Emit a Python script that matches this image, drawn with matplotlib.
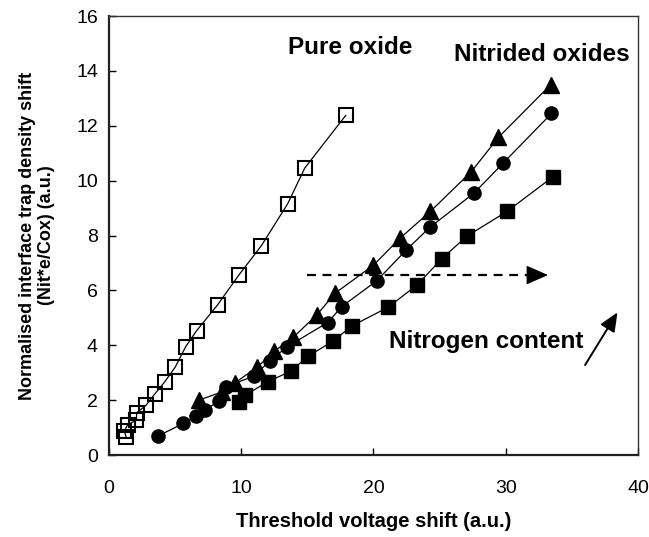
import matplotlib
matplotlib.use("Agg")
import matplotlib.pyplot as plt

plt.rcParams['font.family'] = ['Liberation Sans', 'DejaVu Sans']

# Pure oxide (open squares)
pure_x = [1.30, 1.15, 1.41, 2.07, 2.09, 2.79, 3.45, 4.20, 5.00, 5.80, 6.62, 8.22, 9.80, 11.52, 13.50, 14.80, 17.90]
pure_y = [0.65, 0.87, 1.10, 1.28, 1.54, 1.81, 2.22, 2.66, 3.20, 3.95, 4.53, 5.48, 6.55, 7.63, 9.15, 10.46, 12.38]

# Nitrided oxides, lowest nitrogen content (filled triangles)
tri_x = [6.80, 8.55, 9.55, 11.20, 12.50, 13.95, 15.70, 17.10, 20.00, 22.00, 24.30, 27.40, 29.45, 33.40]
tri_y = [2.00, 2.30, 2.64, 3.20, 3.78, 4.30, 5.10, 5.90, 6.92, 7.90, 8.88, 10.33, 11.58, 13.50]

# Nitrided oxides, intermediate nitrogen content (filled circles)
cir_x = [3.73, 5.62, 6.60, 7.26, 8.33, 8.85, 10.97, 12.15, 13.48, 16.54, 17.60, 20.24, 22.47, 24.26, 27.61, 29.82, 33.46]
cir_y = [0.70, 1.15, 1.42, 1.64, 1.97, 2.49, 2.88, 3.43, 3.95, 4.83, 5.41, 6.35, 7.47, 8.30, 9.55, 10.65, 12.45]

# Nitrided oxides, highest nitrogen content (filled squares)
sq_x = [9.80, 10.30, 12.00, 13.77, 15.07, 16.91, 18.35, 21.12, 23.30, 25.15, 27.07, 30.10, 33.59]
sq_y = [1.93, 2.18, 2.67, 3.06, 3.61, 4.14, 4.70, 5.39, 6.20, 7.15, 7.98, 8.88, 10.15]

x_ticks = [0, 10, 20, 30, 40]
y_ticks = [0, 2, 4, 6, 8, 10, 12, 14, 16]

fig = plt.figure(figsize=(6.49, 5.37), dpi=100)
ax = fig.add_axes([0.168, 0.1527, 0.815, 0.8173])

line_kw = dict(color='black', lw=0.9)
ax.plot(pure_x, pure_y, marker='s', ms=9.5, mfc='none', mec='black', mew=1.5, **line_kw)
ax.plot(tri_x, tri_y, marker='^', ms=11, mfc='black', mec='black', **line_kw)
ax.plot(cir_x, cir_y, marker='o', ms=9.5, mfc='black', mec='black', **line_kw)
ax.plot(sq_x, sq_y, marker='s', ms=9.5, mfc='black', mec='black', **line_kw)

ax.set_xlim(0, 40)
ax.set_ylim(0, 16)
ax.set_xticks(x_ticks)
ax.set_yticks(y_ticks)
ax.tick_params(direction='in', length=5, width=1, labelsize=14)
ax.tick_params(axis='x', pad=18)
ax.tick_params(axis='y', pad=8)

for side in ['left', 'bottom']:
    ax.spines[side].set_linewidth(1.6)
    ax.spines[side].set_color('#222222')
for side in ['top', 'right']:
    ax.spines[side].set_linewidth(1.0)
    ax.spines[side].set_color('#333333')

ax.set_xlabel('Threshold voltage shift (a.u.)', fontsize=14.5, fontweight='bold', labelpad=11)
ax.set_ylabel('Normalised interface trap density shift\n(Nit*e/Cox) (a.u.)',
              fontsize=13, fontweight='bold', labelpad=15, linespacing=1.2)

ax.text(18.2, 14.87, 'Pure oxide', fontsize=17.5, fontweight='bold', ha='center', va='center')
ax.text(32.7, 14.6, 'Nitrided oxides', fontsize=17.5, fontweight='bold', ha='center', va='center')
ax.text(28.5, 4.12, 'Nitrogen content', fontsize=17.5, fontweight='bold', ha='center', va='center')

# Dashed arrow: increasing nitrogen content shifts the curves to the right
ax.plot([14.95, 31.9], [6.56, 6.56], color='black', lw=1.6, linestyle=(0, (4, 3)))
ax.annotate('', xy=(33.2, 6.56), xytext=(31.7, 6.56),
            arrowprops=dict(arrowstyle='-|>,head_length=1.37,head_width=0.6',
                            color='black', lw=1.0, shrinkA=0, shrinkB=0))
# Solid arrow next to the label
ax.annotate('', xy=(38.45, 5.2), xytext=(36.0, 3.28),
            arrowprops=dict(arrowstyle='-|>,head_length=1.15,head_width=0.5',
                            color='black', lw=1.4, shrinkA=0, shrinkB=0))

fig.savefig('out.png', dpi=100)
